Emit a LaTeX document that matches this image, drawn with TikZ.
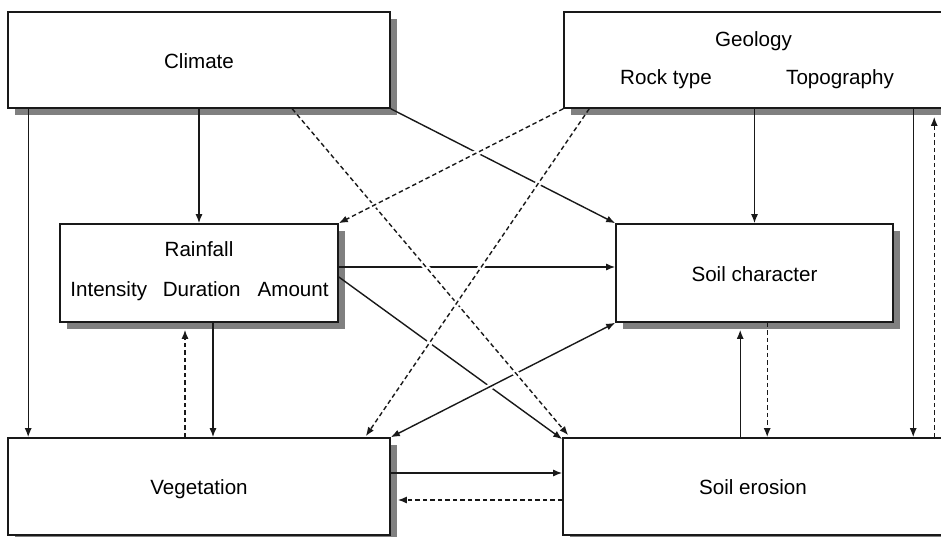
\documentclass[tikz,border=0pt]{standalone}
\usepackage{fontspec}
\setmainfont{Liberation Sans}
\usetikzlibrary{arrows.meta,shadows,calc}

\begin{document}
\begin{tikzpicture}[x=1pt,y=-1pt,
  box/.style={draw=black!90, line width=1.6pt, fill=white, rectangle, inner sep=0pt,
    drop shadow={shadow xshift=7pt, shadow yshift=-7pt, fill=black!50, opacity=1}},
  txt/.style={font=\fontsize{20.6}{24}\selectfont, anchor=base, inner sep=0pt},
  tip/.style={},
  conn/.style={line width=1.4pt, draw=black!90, -{Latex[length=9pt,width=7pt]}},
  twoway/.style={line width=1.4pt, draw=black!90, {Latex[length=9pt,width=7pt]}-{Latex[length=9pt,width=7pt]}},
  dashline/.style={dash pattern=on 4.5pt off 3pt},
  halo/.style={preaction={draw=white, line width=6pt, solid, -, shorten <=12pt, shorten >=12pt}}
]
\useasboundingbox (0,0) rectangle (941,537);

% boxes
\node[box, minimum width=382pt, minimum height=96pt] (climate) at (199,60) {};
\node[box, minimum width=379pt, minimum height=96pt] (geo) at (753.5,60) {};
\node[box, minimum width=278pt, minimum height=98pt] (rain) at (199,273) {};
\node[box, minimum width=277pt, minimum height=98pt] (soil) at (754.5,273) {};
\node[box, minimum width=382pt, minimum height=97pt] (veg) at (199,486.5) {};
\node[box, minimum width=380pt, minimum height=97pt] (erosion) at (753,486.5) {};

% labels
\node[txt] (climateT) at (199,69) {Climate};
\node[txt] (geoT) at (753.5,47) {Geology};
\node[txt] (rockT) at (666,85) {Rock type};
\node[txt] (topoT) at (840,85) {Topography};
\node[txt] (rainT) at (199,256) {Rainfall};
\node[txt] (rainP) at (199.5,296) {Intensity\hspace{15.7pt}Duration\hspace{17pt}Amount};
\node[txt] (soilT) at (754.5,281) {Soil character};
\node[txt] (vegT) at (199,494) {Vegetation};
\node[txt] (erosionT) at (753,494) {Soil erosion};

% vertical links
\draw[conn] ($(climate.south west)+(21,0)$) -- ($(veg.north west)+(21,0)$);
\draw[conn] (climate.south) -- (rain.north);
\draw[conn] (soil.north |- geo.south) -- (soil.north);
\draw[conn] ($(geo.south west)+(350,0)$) -- ($(erosion.north west)+(351,0)$);
\draw[conn, dashline] ($(erosion.north west)+(372,0)$) -- ($(geo.south west)+(371,8)$);
\draw[conn] ($(rain.south)+(14,0)$) -- ($(veg.north)+(14,0)$);
\draw[conn, dashline] ($(veg.north)+(-14,0)$) -- ($(rain.south)+(-14,7)$);
\draw[conn] ($(erosion.north west)+(178,0)$) -- ($(soil.south west)+(125,7)$);
\draw[conn, dashline] ($(soil.south west)+(152,0)$) -- ($(erosion.north west)+(205,0)$);

% horizontal links
\draw[conn] ($(veg.east)+(0,-13.5)$) -- ($(erosion.west)+(0,-13.5)$);
\draw[conn, dashline] ($(erosion.west)+(0,13.5)$) -- ($(veg.east)+(7,13.5)$);

% crossing links, later ones pass over earlier ones
\draw[conn, halo] ($(rain.east)+(0,-6)$) -- ($(soil.west)+(0,-6)$);
\draw[conn, halo] (climate.south east) -- (soil.north west);
\draw[conn, halo] ($(rain.east)+(0,4)$) -- ($(erosion.north west)+(0,2)$);
\draw[twoway, halo] (veg.north east) -- (soil.south west);
\draw[conn, dashline, halo] ($(climate.south west)+(285,0)$) -- ($(erosion.north west)+(6,-2)$);
\draw[conn, dashline, halo] (geo.south west) -- (rain.north east);
\draw[conn, dashline, halo] ($(geo.south west)+(26,0)$) -- ($(veg.north east)+(-25,-1)$);
\end{tikzpicture}
\end{document}
